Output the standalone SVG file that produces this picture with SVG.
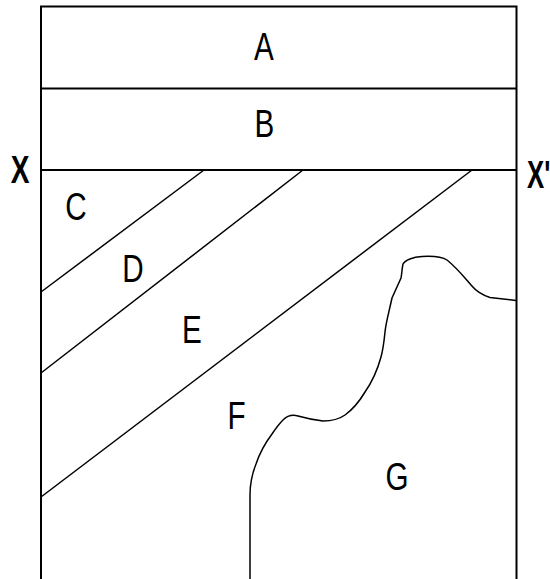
<svg xmlns="http://www.w3.org/2000/svg" width="550" height="579" viewBox="0 0 550 579">
<style>
.wall{stroke:#000;stroke-width:2;fill:none}
.bed{stroke:#000;stroke-width:1.5;fill:none}
.lbl{font-family:"Liberation Sans",Arial,sans-serif;font-size:38px;fill:#000;text-anchor:middle}
.xl{font-family:"Liberation Sans",Arial,sans-serif;font-size:39px;font-weight:bold;fill:#000}
</style>
<rect width="550" height="579" fill="#fff"/>
<g id="connectors">
<path class="wall" d="M41,579 V6.5 H516.5 V579"/>
<line class="wall" x1="41" y1="88.5" x2="516.5" y2="88.5"/>
<line class="wall" x1="41" y1="170" x2="516.5" y2="170"/>
<line class="bed" x1="204" y1="170" x2="41" y2="292"/>
<line class="bed" x1="303" y1="170" x2="41" y2="373"/>
<line class="bed" x1="472" y1="170" x2="41" y2="497"/>
<path class="bed" d="M516,300.5 L490,297.5 C482,295 476,291 471,285 C464,277 457,268 447,260 C441,256 431,256 422,256.5 C413,257 405,260 403,264 C402,268 402,273 401,278 L392,298 C389,312 386,322 385,332 C384,342 383,350 381,357 C378,368 372,382 365,392 C359,402 352,410 345,415 C338,420 330,421 323,421 C315,420 305,418 298,416 C291,414 287,416 283,420 C279,424 276,428 272,434 C266,442 260,452 256,464 C252,474 250,485 250,495 L250,579"/>
</g>
<g id="A"><text class="lbl" transform="translate(264,60) scale(0.78,1)">A</text></g>
<g id="B"><text class="lbl" transform="translate(264.5,136.5) scale(0.78,1)">B</text></g>
<g id="C"><text class="lbl" transform="translate(76,220) scale(0.78,1)">C</text></g>
<g id="D"><text class="lbl" transform="translate(133,282) scale(0.78,1)">D</text></g>
<g id="E"><text class="lbl" transform="translate(192,343) scale(0.78,1)">E</text></g>
<g id="F"><text class="lbl" transform="translate(236.5,429) scale(0.78,1)">F</text></g>
<g id="G"><text class="lbl" transform="translate(397,490) scale(0.78,1)">G</text></g>
<g id="X"><text class="xl" text-anchor="middle" transform="translate(20,183) scale(0.72,1)">X</text></g>
<g id="Xp"><text class="xl" transform="translate(527,188) scale(0.66,1)">X'</text></g>
</svg>
